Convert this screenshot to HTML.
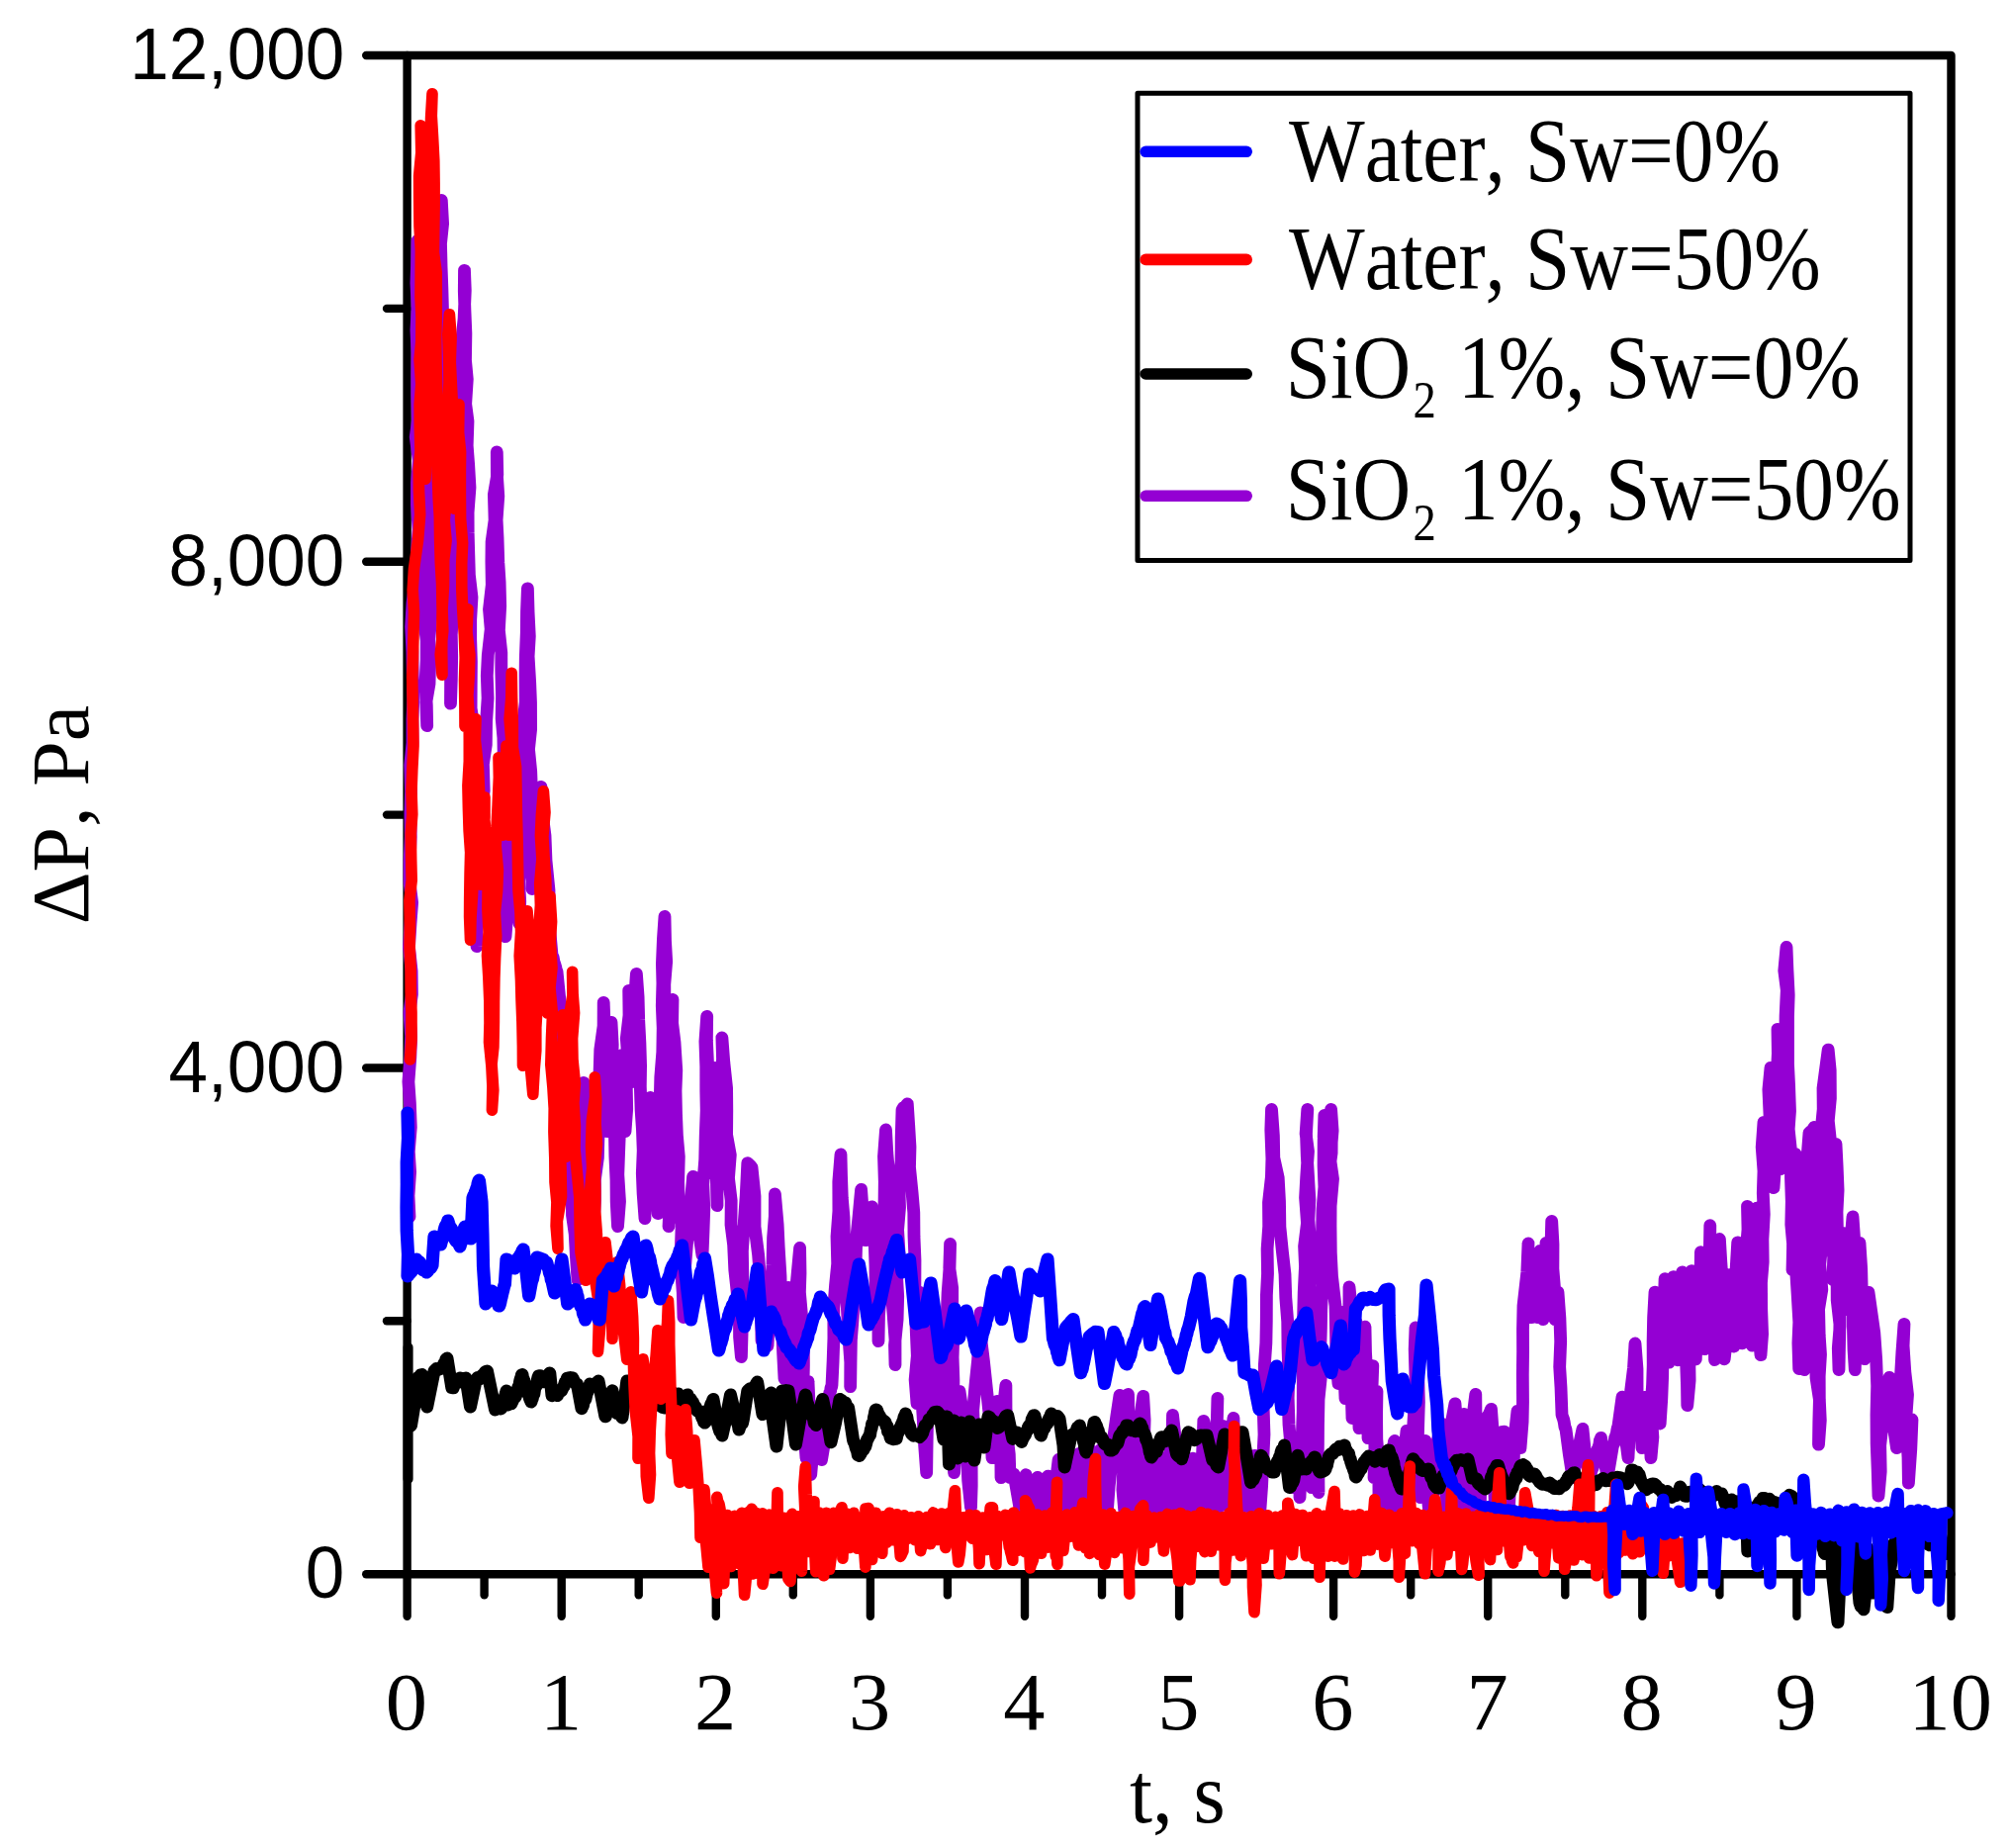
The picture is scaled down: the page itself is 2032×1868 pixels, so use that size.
<!DOCTYPE html>
<html lang="en"><head><meta charset="utf-8"><title>Pressure drop vs time</title>
<style>
html,body{margin:0;padding:0;background:#fff;}
svg{display:block;}
.ser{font-family:"Liberation Serif","Times New Roman",serif;fill:#000;font-kerning:none;}
.san{font-family:"Liberation Sans",Arial,sans-serif;fill:#000;font-kerning:none;}
</style></head><body>
<svg width="2032" height="1868" viewBox="0 0 2032 1868">
<rect x="0" y="0" width="2032" height="1868" fill="#fff"/>
<g stroke="#000" stroke-width="8.4" fill="none" stroke-linecap="round">
<rect x="411.6" y="56.0" width="1560.9" height="1535.2" stroke-linejoin="round"/>
<line x1="370.2" y1="1591.2" x2="411.6" y2="1591.2"/>
<line x1="370.2" y1="1079.5" x2="411.6" y2="1079.5"/>
<line x1="370.2" y1="567.7" x2="411.6" y2="567.7"/>
<line x1="370.2" y1="56.0" x2="411.6" y2="56.0"/>
<line x1="391" y1="1335.3" x2="411.6" y2="1335.3"/>
<line x1="391" y1="823.6" x2="411.6" y2="823.6"/>
<line x1="391" y1="311.9" x2="411.6" y2="311.9"/>
<line x1="411.6" y1="1591.2" x2="411.6" y2="1633.8"/>
<line x1="567.7" y1="1591.2" x2="567.7" y2="1633.8"/>
<line x1="723.8" y1="1591.2" x2="723.8" y2="1633.8"/>
<line x1="879.9" y1="1591.2" x2="879.9" y2="1633.8"/>
<line x1="1036.0" y1="1591.2" x2="1036.0" y2="1633.8"/>
<line x1="1192.1" y1="1591.2" x2="1192.1" y2="1633.8"/>
<line x1="1348.1" y1="1591.2" x2="1348.1" y2="1633.8"/>
<line x1="1504.2" y1="1591.2" x2="1504.2" y2="1633.8"/>
<line x1="1660.3" y1="1591.2" x2="1660.3" y2="1633.8"/>
<line x1="1816.4" y1="1591.2" x2="1816.4" y2="1633.8"/>
<line x1="1972.5" y1="1591.2" x2="1972.5" y2="1633.8"/>
<line x1="489.6" y1="1591.2" x2="489.6" y2="1612.4"/>
<line x1="645.7" y1="1591.2" x2="645.7" y2="1612.4"/>
<line x1="801.8" y1="1591.2" x2="801.8" y2="1612.4"/>
<line x1="957.9" y1="1591.2" x2="957.9" y2="1612.4"/>
<line x1="1114.0" y1="1591.2" x2="1114.0" y2="1612.4"/>
<line x1="1270.1" y1="1591.2" x2="1270.1" y2="1612.4"/>
<line x1="1426.2" y1="1591.2" x2="1426.2" y2="1612.4"/>
<line x1="1582.3" y1="1591.2" x2="1582.3" y2="1612.4"/>
<line x1="1738.4" y1="1591.2" x2="1738.4" y2="1612.4"/>
<line x1="1894.5" y1="1591.2" x2="1894.5" y2="1612.4"/>
</g>
<g id="curves">
<path d="M414 1230l-1-21.5 1.6-23.9-1.3-20.7 2-24.4-.9-24.2-1.5-21.9 1.9-24.4 .8-21.7-1.7-23.7 2.5-18.5-.3-23.4-2.6-24.3 1.5-23.9 1.6-21.1-2.5-20 0-21.9 1.1-24.9-.3-23.1 .6-22.5-.8-26.5 2.3-22.6 0-23.9 .8-19.6-.5-24.6-.4-23.9-1.3-25.3 1.4-23.6 3.4-29.3 1.3-25.7 1.4-19.8-1.7-25.3 .1-22 1.8-22.2-3.1-23.9 2.2-16.7-.7-25.1 0-22.4 .2-20.9-1-23.2 1.2-22.3-1.2-25.1 .6-17.9 .5-24.9 0 22.9 .3 19.3-.4 26.6 2.8 19.6 .1 24.1 1.1 24-1.1 22.5 2.2 19.9 .2 21.7-1.2 20.8 2.1 21.8-2.2 26.1 2.7 20.4 .7 19.7-1.5 23.7 1 21.6-.7 23.3 3.1 26.1 0 19.3-1.2 25.2 1.3 20.9 .4 20.9-.9-23.9 3.2-18.6 .7-23.3-.8-22.3 2-23.8-.4-22.3 1.3-23.7 .4-16.5-1.5-24.3 2.5-20.6 .5-25.7 0-17.9 2.2-27.1-2-22.4 .4-20 1-19.7 2.2-26.5 .3-21 .4-22.8-.4-22.3 1.3-19 1.1-26.1 1.2-17.2-.1-24.4 1.3 23.9-2.1 20.1 .6 24 .8 21.8 .6 22 .6 18.2 .6 23.7 2.1 22.1-.9 23.6 1.8 19.5-.7 24.5 .9 24.9-1 20.5 1.1 21.3-1.1 23.7 3.3 19.3-1.7 26-.3 16.6 .3 26.6 2.6 19.9 0 19.6 .5 24.6-.1 22.5 .8-23.7 .4-24-.4-21.8 1.3-21.5 2.6-22.9-.4-26 .5-21.5 1.5-20.2-1-25.9 2-21.7 2.1-22.6-.2-23.2 .9-22.5 .9-24.1-.8-21.6 1.2-24.9 2.2-20.9 1.2-28.8-.8-20.1-.2 20.9 .7 21.1 .9 21.6-.4 27.2 1.8 19.2-1.6 25 2.3 17.6-.8 24.6 1.5 19.8 1.3 22.4-1.9 25.2 .1 21 .6 21.6 .6 20.7 2.6 22.6-1.3 22.9 0 19.4 .7 22.6-.2 26.2-.1 21.2 3.3 21.4-2.6 20.8 .5 22.7 2.5 19.8-1.8 23.9 .7 20.6 1.5 25.6 .2 17.5 1.7 26.1-.4 17.4 .3 24.8-.1-23.3 2.1-23.8 1.7-19 1.4-22.5-2-24.5 1.1-20.8 3-23.6-.8-26.9 2.9-19.5 .3-23.5 1.5-23.5-.8-22.7 1-21 2.9-26.1-1.7-20.1 2.8-24.6-.4-23.5 .2-20.1 3-21.8-.7-26 3.4-20.1-.5-23 .1 23.4 1.4 21.3-1.7 24.1 .9 17.5 .8 25.2 1.3 20.2 .6 24.1-1.3 24.5 2.4 22.6 0 18.1 .7 26.4-.3 22.3 1.7 19.1 .4 25.6-.1 16.7-1 25.9 1.2 23.1 .5 18.7 1.3 24.5 .2 20.3 .8 24.4-1.2 21.9 1.6-20.6 1-24.3-1.8-21.8 1-21.2 2.7-23.1-1.5-24.1 1.7-18.7-.6-21.5 1.3-25.4 1.6-19.7 2.1 23.2 .7 23-1.7 21.4 1.8 25.4 1.9 23.7 .3 20.1 .1 23.8 1 22.3 .8 24.5 .7-22.8-1.1-20.4 2.4-22.8 1-23 1.4-24.7-1.4-24.8 1.4-19.2 .3-20.1-.6-27.2 2.2-19.1-.2-27.1 .2-18 1-24.7 .2-21.6 .9-23.4 .7 24.5 1.2 23.8-1.2 20.3 1.6 26.7 .8 19.8 .1 27.5-2.1 19.9 2.2 22.4 .9 24.1-.1 23.5-1.1 22.9 1.2 26.4 .4 22.1 1.3-24.7 2.7-26.1 2.3-28.6 2.7-24 .5 22.2 3.5 27.1 1 25.4 3 30 .3 34.8 2.7 30.2 .6 2.6 .6 .2 .7 4.2 .6 1.8 .6 1.7 .7 2.3 .6 3.5 .6 .7 3 30 1 40 1.1 22.8 2.4 20.3 .6 24.3 2.5 20.2 1.2 20.6 2.4 20.8 1.1 24.5 .2 22.8 2.7 19 1.2 22.4 1.6 24 1.6-23.2-.8-22.8-.2-22.3 1-19.6 2.8-24.6-1.6-20.2 .6-23 2.8-23.3-.2-20.4 2.3 24.3-.3 22.3 3.3 23.2 .4 26.9 3.7 23.8 .6 23.9 1.5-25.5-.1-20.7 3-22.3 .6-24.5 .1-17.4 1.9-24.4-.9-20.4 .7-22.3 3.3-24 .1-23.9 .9 24.1 .1 29 1.8 24.5 1.2 24-.2 28.8 .1-24.5 .9-17.9 2.2-25.9-.6-22.3 1.4-19.8 1.2 22.6-.6 22.5 2.7 23.3 .2 24.1 0 22.5 .4 20.8 1.1 23.6 .2 22.2 1.3 24.8 2-25.2-1.7-27.2 .7-19.7 1-26 .4-24.9 1.3-24.2 .8-26.2 1.1 25.1 .2 27.1 1.7 25.2 1.7-22.6-.5-25.9 1.9-20.6-1.8-24.8 2.7-23.7-.3-24.8 2.3 25.4-1.5 23.8 1.1 19.4 1.4 23.8 2.6-29.3-.7-24.6 .7-29.5 1.8-26 1.7 23.2 .6 23.5 1.2 23.1 .7 23-.3 20.9 .8 24.1 1.3 19.2 .8 21.7-.9 23 .8 20.2 1.9 25.5-.2-24.8 3.2-26.9 .7-24.1 .7-23.3 1-23.3 1.3 24.8 1.5 21.5 2.5 21.8 .3 27 2 22.3 1.6-20.2-1.3-25.3 .7-22.6 2.3-26.5-1.1-18.3 .6-25 2-25.2 .4-24.7-.9-22.2 .6-22.8-.5-19.6 1-24.5 1.6-23.5 .5 24.5 1.2 21-1.9 23.2 .1 23.4 .9 18.3 0 23.3 2.1 25.1 .2 21.7-1.3 19.9 .4 23.1 2.1 25.7-2.2 22.2 3 19.4-1.1 22.6 1-21.2-1.2-24 2.9-21.3 .2-27.8-.2-20.5 1-24.8-.7-23.3 1.2-19.3-2.1-25.4 1.9-21.8-.4 23.8 2.4 19.5 1.8 28.4-.8 20.6 .5 23.1 .9 22 1.9 21.4-.7 26.4 .6 18.8 3 23.5-.8 23.9 .3 23.2 1.6 21.5 .7 25.3 1.6-28.1 .1-24.5 2-24.6 2.3-24.5 3.6-40.7 3.4 25.7 2.3 28.9 3.7 24.8 1-24.3 .8-22.9-1-24.5 1.9-24.7 .5-23.5 1-26.4-.4-19.8 0-24.6-.9-25.2 1.8-25.5-.3 24.1 1 21.4-.1 20.9 2.5 25-.3 19.4-.6 27.8 1.1 19.8 .2-26.4 2.8-26.7 .7-23.9 1-29.4 1.3 21.7-.8 24.3 1.2 24.7-.9 23.4 .9 19.2 .6 26.1 0-25 .4-22.5 3.3-22.7-.5-24.7 .3-25.9 2-27.4-.6-21.6 1.9 24.8 2.8 26.3 .2 22.6-.2 24.5 3.7 20.3-1.8 23.6 2.7 22.4-.2 24.6 2.6 20.3 1.2 25.6 2 18.5 2.6 26.8 .2 22.4 1.8 20.1 .8-28.3-.1-22.5 .7-31-.4-25.4 1.6-24.5 2.2-31.3 1.6-33.1 1.4 1.3 1.4 1.4 1.4 1.7 3 29.1 0 30.9 3.6 28.2 2.4 31.8 .5 25.6 .5 29.4 1.5 .2 1.5 2 1.5 .7 1.5 2.6 1.6-29.4 2.4-31.1 1-21.5 .6-27.5 1.7-21.4 .1-22.7 2.7 30.6 1.1 23.3 1.8 29.2 .5 25.9 .9 23.6 1.3 29.2 1.3 25 2-21.5 1.2-22.9-.5-24 1.3-24-.8 23.8 2.8 18.9-.1 22.1 1.7 23 .6 25.1-.2 19.5 1.6-23-.8-18.9 2.5-26.8-1.1-18.7 2-25.3-.2-21 3.6-38.7 .4 25.9-.6 19 2.4 26.9 1.5 20.5 .1 26.1-.4 20.3 .5 22.9 .7 27.9 1.8 22.9-.5-25.5 3.2-27.9-.7-24 1.1 23.8 1.7 23.5-.8 25.9 .7 21.2 3-34.3 1.3-30.1 4.2 24.1 2.3 25.3 4.2-25.1 1.3-30.6 .5-2 .5-2.3 .5-2.5 .5-1.9 .5-2.2 .5-2.1 .5-.3 .5-4 .5-.4 .5-2.3 1.1-23.6 .8-23.8-.1-30 1.8-24 2.1-21.1-.7-27.5 1.9-25.7-.1-29.8 2.2-27.6 .5 21.3 .8 22.9 1.7 19.5 .5 22.8 2.2 24.7-.7 21.9 1.5 24.3 1.5 27.8 1.8 24.7-.1 24.9 .3-23.6 .4-23.6 1.9-24.5 .5-25.1 2.2-24.9 .8-28.7 2.2-21 2.6-28 1.8 25.8 2.6 25.6 6.4-33.8 2.7 32.9 .9 27.2 .2 26.4 2.7 25.8 .1 23.5 .5-26.6 2.4-27.7 .1-24.2 1-27.2 2-28.5 .3-27.2-.8-25.4 2-26.9 1.3 23.4 1.7 19.7-.5 24.5-.1 25.2 .4 18.6 .4 24.9 2.3 21.7 1.8 24.9 2.2 29 0 25.8-.5-19.8 2.6-26.2 .6-23.6-1.2-20.7 2.5-23.2-1.4-23 1.9-22.6-.5-20.6 2.1-27 .1-22.7 .8-28.3 1.3-2.3 1.3-.7 1.4-1.3 1.3-1.9 1.4 21.8 1.3 21.8-.5 20.5 2.6 25.8 1.7 19.9 .2 24.4 1 23.8-.1 26.4 .4 21.7 .9 22.4 1.1 26.3-2.2 23.9 1.9 24.2 2-19.6-1-26.8 2.2-22.3-2.3-22.7 2.1-21 .5 25.8-.7 22.7 2.7 24.8-1.1 26.9 1.6 23.5 1.6 30.5 2.1 28.2 .3-22.8 .4-23.6 1.3-26.2-.7-25.3-.1-27.8 2-20.2-.9-26.5 1.5 25.6-.1 24.3 .3 23.4-.6 19.9 1.9 24.2 1-22.4 .6-24.6 .2-25 1.2-25.4 1.7 25-1.7 24.6 .7 22.3 2.3 25.5-.2-24.2 1.1-26.1 2.1-27.1-.4 24 3 30.1 .4 23.3 3-33.7-.8-23.1 1.7-23.7-.5-27.4 .7-18.6 1.9-25.4 .6-24.5-.8 24.3 2.9 20.2 0 27 1.1 21.5-.7 21.8 .8 22.9-.1 25 1.6 24.1-2.5 19.5 1.7 25.1 1.3-28.1 3-28.3 1.1-26 5 33.7 2.4 27.6 1.3 29.1 2.8 27 .7-21.9-.1-25.2 2.5-27.4-.9-23.6 2.3-25.6 2.6-25.3 1.4-23.2 1-24.6 .7 26.5 2.7 22.1 2.6 24.5 2.8 26.8 2.3 21.5 .9 25.4 3.6-30.8 1.4-26.6 1.5 25.4 2.3 27.5 .2 24.5 1.7-21.5 .3-25.5 .4-23.9 2.5-22.5 .1 24.7 .8 24.5 2.5 20.5 .7 23.7 2-3 2-.7 5.9 33.9 6.2-33.2 6.2 37.8 5.5-35.2 5.7 30 4.9-31.2 5.1 33.3 2.6-24.6 3-25.4 1.4 28.7 3.6 22.9 2.7-28.1 3.5-27.3 1.8 25.4 3.1 26.9 1.7-25.2 3.2-29.4 1.1 28.9 3.8 30.5 3.4-31.8 2.7-31.6 2 28.7 3.1 28.8 1.7-30.3 4.4-27.9 2.9 32.1 3.3 28.8 1.7-23.5 2.7-23.8 1.4-21.7 3.5-24.9 3.2-21.3 1.3 23.4 1.1 25.2 1.4 23.9-.9 23 1.8 20.5 .6-24.2 .8-20.1 2.3-24.1-1.3-27.5 1.4-21.1 .4 24.5 2.8 19.7-.9 29 2.4 17.7 1.8 26.2 1.6-25.4 2.9-20.5 1.1-20.6 .2-27.3 2.9-21.3 1.4 23.9-.6 21.8 1.1 26.9 1.5 23.1-.9 20.8 4.4-28 1.3-23.5 1 26.8 4 22.8 1.9-26.1 3.6-26.4 2.5 28.2 2.8 22.5 1.3-25.6 .7-18.9 3.4-28 .4-21.3 2.6 22.6 .4 24.5 1.5 23 0 23.4 1-24.3 4-25 4 24.3 1.7 25.3 3.6-25.3 1.5-24.7 1.9 24.8 2.8 26.4 .7-22.2 3.9-21.8 1-24.7 .7-20.3 .6 23.5 1 19.6 2.5 23.7-.2 25.2 2.5-20.1 .9-27.3 2.2-21.3 4.1-25.4 .5-20.9-.6 24.4 .3 20.6 1.7 18-2 26.6 1.7 20.4 2.7-26.2-.1-30.9 1.4-24.9 2.4 25.3 1.6 27.1 2.8 30.4 1.1-22.9 .3-24.2 .4-23.8 2.4-19.9 .5 25.9 1.4 21.5 3 22.3 1.8 22.5 1.8-22.9 3.1-28.7 3.2 24.2 1.3 25.4 2.4-23.5 2.9-28.6 1.6 30.3 3.8 25.8 1.8-25.4 1.1-25.7 1.3-26.4-.8-25 1.4-23.6-.3-20.6 1.6-23.3 .4-22.2 .1-26.1 1.1-21.8-.4-25 1.6-23-.2-23.9 2.9-26.1 .5-18.3-1.1-28.8 .7-21 1.9 26.6 .4 22.5 4.4 20 1.3 24 .4 26.1 2.5 24.6 2.6 22.9 .8 23.7 1.9 24 .3 27 .9 27.3-.7 23 .8 27 3.1 34 .9 29.7 3.5-23.2 .5-24.2 2.9 31.1 .1 26.3 1-23.3 .3-22.2 1.2-21 .7-20.3 .1-26.4-.3-20.5 .1-27.5 .6-24.6 .5-21.1 1.3-26.8-.9-20.2 2.9-23.5-1.9-25.6 1.1-20.7 1.8-26.2-2.4-17.9 1.7-24.6-1.3 24.7 .8 22.8 1.2 20.1 1.4 23.7-1 20.1 1.5 21.2-1.3 26 .9 20.1 1.4 24.6-1.5 19.7-.5 25.6 0 18.7 .2 24.3 3.3 20.3-2.1 23.8 1.6 23.2-.4 23.5-.3-23.2 3.1-27.5-1.9-22.9 2.1-23.8 2.4 23-1.6 29.1 3 24.4 .2 25.9-1.1-23.2 .5-26.4 .1-18.3 .5-26.3 2.6-25.2-1-19.9 .8-27.2 .3-18.7 1.2-23.7-2.2-28.9 1.8-20.9 .5-27.5 1.9-22.8-.8-21.1 .1-25.2 .7-26.1-.7 21.7 2.2 22.2-1.3 24.4 .9 22.4 .2 21.5-.2 21.1 3.1 21.8-1.1 21.3 .2-19.9 2.2-23.8-1.9-27.2 1.7-22.5-1.4-20.3 3.3-24.5 .1-18.6-.6-25.6 1.5 21.6-2.4 29.3 2.8 19.4-2.4 27.4-.1 20.4 .3 27 1.2 23.6 3.5 30 .6 28.3 .3 26.5 2.1 23.9 2.3-24.9 .7-22.3 1-25.2-.2 31.7 2 26.7 1.2 29 1.9-25.4-1-22.5 2.3-21.5 .7-19.5 .1-23.9 2.1 20.2-1.4 25.8 .6 18.5 1.3 25.8-.3 19.7 .7 22.8-.2-24.9 3.3-24.7 1.4-24.3-.5-23.5 .7 28.5 2.1 27.3-.8 24.5 1 27.1-.4-24.4 2.9-26.8-.8-25.4 1.3-22.1 1.5-2 1.5-1.8 .5 25.4 1.2 22.1-.9 19.6 2.2 20.3 0 25.1 .9-22.1-1.1-25.5 2.2-21.1 1.4-1.3 1.4-3.1-.8 23.5 1 21.1 1.7 22.7 .3 25.1-1 20.7 1.2-31.5 .3-24 1.5-31.9-.4 24 .2 24.4 2 24.4 .1 18.8 .1 25.8 4-37.4 2.9 26.7 1.1 25.7 2.8-22.8-.7-23.3 1.9-22.6 .6-1.8 .5-1.5 .6-2.2 .6-1.2 .6-3 .5-2.9 .6-1.1 3.1 27.1-.2 24.3 3.1 26 3.1-28.7-.3-27.4 3.2-31.3 2.1 20.6 1.2 26.5 .7 20.3 1-21.8 .5-30.2 1.2-19.6 1.5-25 .8-24.2-.8-29 .8-21.9-.3 21.8 3.1 29.1 .6 24.3-.7 23.3-.6 22.1 1.9 23.9 1 27.2 1.9-28.6 3.1-28.8 .6 25.5 1.4 29.2 3 27.7 3.1-26.5 1.6-24.7 1.3-27.5 .6-1.2 .6-2.1 .6-2.9 .6-3.4 .6-1.7 .6-1.8 .6-1.9 .6-1.3 .6-2.3 .6-2.1 .6 22.9 2.7 29.8 1.1 19.7 .6 27 1.6-22.9 .5-25.6 2.1-25.7-.2-24.5 4-21.2 1.5 21 1.2 25.4-1.3 23.3 2.8 21.9-.2 23.3 .6-24.8 3.4-24.6-1-29 1.8-26 .7 25.2 1.5 28.2 .9 30.6 1.1 25.4 1.2-21.7-.2-29.5 .6-21.6 2.4-25.9 3.8-30.7 .2 24.2 1.9 30.5 1.2 25.7 1.4 23.3-.5 25.7 .4-23.1 1.2-28.8 1.7-20.7 1.7-26.1 .8-1.6 .8-2.6 .8-2.8 .8-1.8 .9-.7 .8-2.3 .8-1.8 .8-2.1 1.7 23.3 1.3 25-.2 19.5 .8 22.2 .9 24.4 0-20.9 1.8-26.3 .9-20.4 1.3-21.1 2.5-2.7 2.5-.1-.5 23.5 3.5 24.3 .3 19.2 .7 24.5 1.1-28.9-.6-27.1 1.5-26.4 3 32.4 .8-33.5 3.2-28.9 3 37.4 2.1-26.4 .4-20.3-.2-27.5 .3-23.4-.1-22.4 .5-23.7 3.8-33.9 1.2-29.2-.6 25.4 2.7 25.4 .9 24 .2-32.5 2.8-30.9 2.2 32.3 .8 31.1 .4-25.4 .1-17.2 2.5-24.8 .3 20.6 1 23.9 1.7 24.9 1.1-28.5 1-22.2 .9-26.7 1.1 23.7 .1 21.9 1.8 23.8 1.5-24.1 .9-23.5-.4-18.6 .7-25.2 1.3 23.5-.1 24.9 2.1 25.3 0 25.7 3-27.4 1.9 25.9 .8 23.8-1 25.6 1.3 21 1 27.4 .6 2 .5 1.3 .6 1.8 .6 2.8 .6 4.2 .5 1.3 .6 1.6 3.3 24.8 3.7 23.9 4.6-24.3 5.4-25.1 2.7 26.8 4.3 22.6 .5-1 .6-3 .5-1.6 .6-2.5 .5-.7 .6-1.7 .5-1.7 .6-4.4 .5 .5 .6-4 .5-2.2 .6-1 .5-1.3 .6-3.5 .5-.3 .6-1 .5-2.5 .6-1.7 .5-4 .6-1.4 .5-1.4 6.5 40.4 5-29.7 .5-2.7 .6-1.6 .5-.4 .5-1.6 .5-4.1 .6-1.1 .5-1.8 .5-.8 .5-3.6 .6-2.9 .5-.8 4.2-30.5 1.7 28.7 4.3 32.9 1.3-25.6 2.1-22.5-.7-20 2.8-22.9 1.5-24.7 2 25.7 .1 29.3 3.7 22.8 1.2 27.9 .7-25 3.3-26.6 3.9 32.3 1.1 29.3 1.9-21-2-28.8 1.7-24.4 .6-19.7-.1-23.9 .5-24 1.4-25.8-.5 19.9 .8 24.9 .8 22.8 2.1 23.4 .8 21.8 1.2 20.1 1.6-25.1 .9-23.1 .2-25.4-.5-23.8 1.9-24.9 .8-24 3 26.2 1.2 30.4 .1 27.8 .1-28.5 1.7-29.2 2.4-28.8 1.4 29.7 2.9 23.9 .2 30.6 2.4-19.6-1.2-27.4 2.1-22.5 1.3-19.4-.4 22.5 1.2 23 .8 22.9 2.2 18.9 1 27.6 .3 19.9 2.3-25.4-.3-21.1-.2-21.8-.4-21.7 .9-21.3 1.9-24.8-.2 23.1 2.5 18.8-.3 25.1 2.3 22.4 .9-29.1 .4-26.7 3.5-27.6 .3-24.9 1.8 22.2 1.3 28.4 1.2 22.2-.2 25.2 2.6-25.5-.1-22.6-.4-29.7 2.8-23.9 .4-23.4-.1 22.6 .6 21.4 .9 21.5 2.7 27.2 .6 20.3 0 23 2.3-24.2-.2-27.5 .4-23.3 1.9-19.9 .5-27.2 1.4 23.2 1.6 22.8 .9 24 1.4 28.6-.5 22.7 3.2-28.5 .5-28.8 1.1-27.8 2.4 24.3 .6 25.7 1.7 22.3 2.4-27.6-1.2-22 1.3-30 1.5-25.5 1.3 24.2 .9 25.4 1.1 28.7 1.3 23.7 1.7-20.5 1.4-27.1 .4-20.5 .4-24.4 1.8-22.6-.5-23.5 2.2 21.1-1 23.7 2 25.4-.4 22.8 1.3 23.3 .9 24.6 .7-22.4-.8-25.6 2.3-20.6 1-22.7 .2-22.1 .9-25.7 1.6 24.8 0 26.6-.2 21.6 1.4 26.1-.7 24.8 2.1 24.7 1.6-21.3-.9-24.6-.2-27.3 1.7-20.7-.3-23.1 1.4-25.4-1-21 .7-22.5-1.8-24.2 1.8-25.3 .5 28.6 3.5 30.8 .1-21.1 2.3-24.3-.4-22.2-1.1-24.7 2.1-22.1 .4 21.6 .2 25.6 0 23.8 1.4 27.1 1 23.3 1.7-24 .4-20.6-1.7-25.9 3.1-23.3-.2-20.3 1.1-21.7-.4-24.6 1.5 21.4 .2 28.1 .3 23.9-1.3 20.7 3.3 22.5-1 24.8 .1-23.7 .7-21.6 1-23.5 .6-18.4 .1-26.5 2.4-19.7 .2-21.2 1.2-26.1-2.5-19.8 2.2-23.9 .9 22.6 1.3 25.8-.7 22.2 0 20.8 0 26.5 1.1 22.1 .9 25.8-1.3 18.3 2.5 24-.2 25.1 .8 24.1-.5 23.1 2.2 24.7-1 21.3 .5-22.1 0-22.3-.3-25.6 3.1-21.4-.3-26 .5 24.2 .7 25.7-.4 23.4 .1 20.8-.2 24.7 1.5 23.9 1.6 27.5-.9 21.1 .8 26.1 .5-20.7 2.1-24-.7-22 1.2-25.9 2-20.9-.5-23.9-1.3 20.5 1.4 27.3 .1 21.6-.9 23.5 1 21.6 .4 23.9-.4-23.4 2.5-24.3-.3-23.9 .9-23.1-1.8-22.4 2.1-29.4 1.2-19.7-.6-25-.6-23.1 2-25.4 1.7-1.3 1.6-1.4 1.7-2.8 .2 25.5 .2 17.4-.8 24.8 .8 22.3-.1 25.5 2.9 24.5-1.4 20.4 .9 23.5 .9 21.9-1.9 22.2 .3 25.1 3.4 22.2-.6 22.9-.3 22.5 1.8-24.5-1-21.5-.1-23.2 1.3-21.9-1.3-19.3-.6-26.6 3.2-19.6-2-25.7 1.8-18.3 1.3-21.9-.5-27.6 .4-20.4-.5-25-1.4-19.6 2.3-24-.2-21.1 5.2-38.9 2 20.7 .2 28.4-2.1 22.7 2.2 20.8-.1 24 2 24.5-.9 21.5-.5 23.8 2.7 23.7-.7 22.5 .8-23.2 1.8-20.5-1-24 1.4-25.4-.1-22.7 .1-21.6 1.1 21.7 1 25.1-1.1 22.1 .5 21.1-1.5 23.9 1.1 23 .1 21.2 2.7 23.9-.4 21.4-.5 25-.7-21.9 1.8-22.4-.6-24.9 2.5-24.7 1-23.3 0-21.2 .4 23.7 1.5 27.3 3.1 26.4 2.2-25.4-.4-22.4 1.1-20.3 2.1-25.6 1.4 19.8-.2 26.8-1.8 19.1 .4 21.6 .6 22.9 .6 23.8 1.3 20.7 .6-28.2 1.5-23.4 1.5-24-.6-27.8 1.7-25 1.7 26.3 .5 21.3 .3 22.4 .9 23.9 1.6 23.5 .6-23.5 .6-23.9 2.8-20 5.8 41.1 1.9 26.6 1 26.9-.7 29.1 .2 29.8 1 26.1 .8 26.3 2.2-24.7-.5-26.4 2.3-21.1 .5-.9 .5-2.9 .6-1.4 .5-1.4 .5-3.4 4.4-37.7 3.2 24.4 .8 23.3 3.5 23.7 .5-31.4 3-32.3 1.9-33.2 2.1-28.5-.9 22.1 1.7 26.1 2.7 23.3-1.6 22.6 .9 20 1.2 21.1 .4 25.7 2.4-34.7 1.2-29.5" fill="none" stroke="#9400d3" stroke-width="12.8" stroke-linejoin="round" stroke-linecap="round"/>
<path d="M412.6 1362V1495" fill="none" stroke="#000" stroke-width="10" stroke-linecap="round"/>
<path d="M415.5 1441l4.1-24.7 1.4-20.3 1.4-3.5 1.5 2.3 1.5-4.9 1.4-.3 4.9 32.4 7.3-36 2.2-2.4 2.1 .7 2.2-.9 2.2-2.2 1.1-2.7 1 .2 1.1-4.7 1.1-1 4.8 29.6 1.4 .2 1.3-4.1 1.4-.5 1.4-.3 1.3-2.6 1.4-2.3 2 1.7 2-.9 2-.8 4.5 29 5.5-26 1.9-3.6 1.9 1.6 2-3.3 1.9-1.2 1.9-2.7 1.9-.8 8.1 39 2.9-1.7 2.8 .7 .6-.6 .7-3.1 .6-.5 .6-2.7 .7-1.2 .6-3.6 .6-1.5 .7-2.3 .6-2.5 1.6 14 1.6-2.4 1.6 1.3 1.6-3.3 1-2.7 .9-.1 1-1.2 .9-3.2 1-2.5 .6-3.5 .6 .7 .6-2.7 .6-3.9 .6-2.6 .6-.1 .6-4 .6-.2 .6 3.7 .5 .2 .6 2 .5 1.5 .6 3 .6 3 .5-.5 .6 2.7 .7 1.5 .8 2.8 .8 .8 .7 3.2 .7 1.7 .8 1.8 .6-2.3 .6-1 .5-2.6 .6-3.7 .6 1.6 .6-4.6 .5-1.7 .6-2.1 .6 .1 .6-1.9 .5-3.8 .6-2.4 .6-1.6 1.4-.2 1.4 4.6 1.4-1.4 1.4 2.7 1.2-1.6 1.1-2.5 1.1-1.8 1.2-1.6 1.1-1.2 2.2 22.7 2.8-1.3 2.7 1.2 1.4-3.8 1.3 0 1.4-1 1.4-3.1 1.1-1.4 1.1-3.7 1.1 .1 1.1-4.6 1.1-.1 2.2-.4 2.3 .4 1.4 3.3 1.5 2.4 1.5 .3 4.6 24.7 .6-2.1 .7-.3 .6-3.3 .7-1.8 .6-1.7 .7-.2 .6-2.9 .7-3 .6-.9 .7-2.2 .6-3.1 .7-.2 .6-3 2.1 1.4 2.2-1.1 2.2-1.2 2.1-2.1 6.9 35.8 .5-.2 .6-5.7 .5-.1 .6-1.5 .5-3.1 .6-2.7 .5 .1 .6-3.1 .5-2.6 .6-2.9 .5 1.7 .6-4.5 .5-1.4 5 22.7 1.7 0 1.6 1.9 1.7 2.6 4.8-37 2.1 .4 2 3.7 2.1-.1 1 .9 1 2.5 1 1.5 1 3.6 1 2.3 1.7 .2 1.6 2 1.7 2 1.7-.5 1.6-.6 1.7-3.1 1.7-.6 1.6-5.1 1.7-.1 .8 1.4 .8 3.8 .8-1.4 .9 2.6 .8 3.1 .8 1.4 .8 2.4 1.9 2.6 1.9 1.4 1.9 .7 .9-2 1-2.7 .9-1.9 1-1.8 .9-2.6 1 .5 .9-2.5 2.6-1.7 2.5 2.6 2.6-1.9 3.3 24 .5-1.5 .6-4.5 .5-.3 .6-1.6 .5-4.4 .6-.3 .5-3.9 .6 .8 .5-5.1 .6 .4 .5-2.6 1.1 3.8 1.1 1.3 1.2-.7 1.1 3.1 1.1 .2 1.1 3.3 1.4 .9 1.3 3.6 1.4 1.3 1.3 .2 .9-.1 .9 3.3 .9 2.9 .9-.1 .9 4.4 .9 .6 .7-.4 .7-3.3 .7-2.7 .7 0 .7-3.3 .8-1.9 .7-3.3 .7-1.6 .7-2.4 .7 .7 .7-3.3 .7-2 4.5 24.7 .7 2.7 .8 2.5 .8 2.6 .7-1.2 .7 2.8 .8 2.4 4.2-18.4 4.3-22.6 4.3 18.4 .5 3.6 .5 1.6 .5 .6 .6 3.1 .5 .3 .5 1.9 .6 1.6 .5 3.9 .9-2.6 .9-2.6 .8-1 .9-.2 .9-4 4.4-28.6 2.4-2.2 2.5 .5 1.2-1.6 1.3-.6 1.2-2.9 1.2-2.2 5.4 32.6 1.1-2.1 1-1.3 1.1-5.2 1.1-.4 .7-.3 .7-3.1 .8-1.7 .7-2 .7-5 .7-.5 1.4 25.1 4 28.9 2.8-25.4 2.7-30.6 2.2 1.6 2.1-2 2.2 .4 4.1 28.4 3.4 25.6 4.9-28.4 4.9-21.6 .6 1.5 .6 4.6 .6 2 .6 1.3 .6 2.8 .6 1.7 .6 1.6 .6 .8 .5 2.8 .9 1 .9 1.8 .9 1.1 .9 5.4 .9-.6 .9 2.7 .5-3.9 .5-.8 .5-2.9 .5-.6 .5-2.5 .5-2.6 .6-.8 .5-2.2 .5-2.3 .5-.1 .5-4.1 .5-1 .5-2.2 5.3 24.4 3.1 18.9 4.5-19.2 4.5-24.1 2.1 1.3 2.2 2.4 1.4-.2 1.5 5.2 1.4-.2 4.9 32.4 .6 2 .6 .8 .6 1.5 .6 2.4 .6 2.2 .6 1.2 .6 1.6 .6 3.7 1.5 .6 1.4-2.2 1.5-4.2 1.4 .1 .9-2.1 .8-.7 .9-3.2 .8-3.8 .8-.9 .9-1.9 .8-1.5 .5-.3 .5-3.4 .5-2.5 .6-1.3 .5-4.3 .5 .5 .5-1.5 .5-2.5 .5-3.3 .6-2.3 .5-3.1 .5-1.7 .5-.3 .9 .5 1 3 .9 3.2 .9-.4 1 3 2.3 1.5 2.3 1.7 .6 2.5 .7 2 .7-.4 .6 5.6 .6 .6 .7 .9 .7 1.8 .6 3 2.6 1.2 2.6-.3 .8-.2 .9-4.3 .8-1.7 .9-1.3 .8-3.5 .9-.7 .7-2.3 .7 .1 .7-3.4 .7-.9 .8-4.2 .7 .4 .7-3.4 .6 3.1 .6-.2 .6 3.3 .6 2.6 .6 1.6 .6 2.1 .6 .6 .6 3.3 .6 1.2 .6 2.6 1.9 1.8 2-1.1 2 1.1 2.2 1.5 2.2-2.3 .9-1.7 .9-3.4 .8-1.3 .9-3.2 .9-.5 1.5-.7 1.4-4.4 1.5 .2 1.1-1.5 1.1-3.2 1.1 0 1.1-3.1 2.5-.2 2.5 2.8 4 25 3-23 1.8 25.3 .7 22.7 1.4-24.2 3.1-19.8 4 38 3.3-36 4.7 34 4-35 4.9 39 5.1-36 5 23 4-31 1.5 .8 1.5 2.5 1.5 .7 1.3 .9 1.2 .8 1.3 3.5 1.3 2.1 1.2-.5 1.3-4.3 1.3 1.4 1.2-3.4 1.7-1.9 1.7-3.3 1.7-.6 5.1 23.7 1.5-3.8 1.5-1.1 1.5-1.6 .9 1.8 .9 .7 .9 1.5 .9 3.6 .9 1.9 .9-3 .9-1.1 .9-1.9 .9-1 .9-2.7 1.1-1.5 1-3.2 1.1-2 1-.5 .9-.5 .8-5.2 .9-1.7 .9-2.2 .8-.2 .7 3.3 .6 .9 .7 3.6 .7 .8 .7 .9 .6 2.4 .7 3.2 .7 .1 .6 4.3 .7 .8 .8-2.3 .9-3.3 .8-.7 .9-1 .9-3.5 .8-.5 1-.5 1-2.1 1.1-3.8 1-.5 1-3.8 2.1 2 2 .7 2.1-.3 2.1 2.6 4 27 1.2 22 6.8-32 2.1-1.6 2.1-1.1 1-2.3 1.1-3.1 1.1 .4 1-2.3 .5 3.5 .5 .2 .6 1.7 .5 3.4 .5 2.8 .5-.5 .6 2.6 .5 3.5 .5-.3 .5 5.1 .6 .1 .5 4.2 .5 .7 .5-2.3 .6-3.3 .5-2.7 .5-1.7 .6-1.5 .5-.1 .5-2 .6-3.3 .6-1.4 .6-3.2 .6-.6 .6-1.6 .6-3.4 .6-3.1 .6-.3 .7 1.9 .7 1 .7 1.8 .7 2.8 .7 .8 .7 3.7 1.4 3.7 1.4-.3 1.5 3 1.4 3.2 1.4 1 1.4 .7 1.4-.2 1.4 5.3 1.4 .1 1.7-.8 1.7-3.2 1.7-2.1 1-.5 1-3.7 1-3.9 1-1.6 1-.7 1.3-2.9 1.3 .1 1.2-2.3 1.3-3.4 1.5 0 1.5 2.4 1.5 2.1 2.2-.9 2.3 2.2 1.1-3 1.1-1.5 1.2-1.7 1.1-1.6 .8 .5 .9 3.9 .8 .2 .8 4.5 .9 .3 .8 1.6 .9 2.2 .5 3.2 .6 .3 .6 1.8 .6 1.5 .6 2.8 .6 1.8 .5 4.1 .6 .6 .6 3.4 .6 1.3 1.7-2.8 1.7-2.8 1.8-.2 .7-2.9 .7-1.7 .8 0 .7-4.9 .7-2 .8-2.3 .7-.7 1.7 .2 1.7 3.9 1.7-.7 1-.3 1-4.8 1.1-2.7 1-.3 1-2 5 23.7 1.7 2 1.7-.2 1.7 3.2 .5-2.4 .5-.7 .6-5.1 .5 .8 .5-2.2 .5-1.7 .6-3.3 .5-2.2 .5-1.8 .5-3.6 .6-.6 .5-3.2 .5-1 1.2 .9 1.3 .5 1.2 2.1 1.3 1.1 1.2 3.4 2.1-1.4 2-2.8 2.1-.5 2.1 .2 2-.2 2.1 0 5.8 24.8 1.4 .8 1.5 1.3 1.4 3.7 1.5 1.4 6.4-33 2.2 2.6 2.3 1.3 2.3 1.9 2.2 .4 2.2-1 2.3-1.1 1.5-1.8 1.5-4.4 1.5-.2 4.3 24.4 4.3 26.3 1.3-2.8 1.2 0 1.3-3.7 1.3-1.5 .5-3.7 .6-.9 .5-.4 .6-5.1 .6-2.1 .5-.5 .6-.7 .5-4 .6-1.7 .9 .9 .9 4.1 .9-.8 .9 2.8 .9 2.7 1.5 1.9 1.5 2.4 1.5 .1 2.3 2.7 2.2-.1 .7-2.8 .8-2.3 .7-1.7 .7-3.1 .7-1.5 .8-.1 .7-3.2 .9-.1 .8-4.9 .9-2.8 .8 .6 .9-1.2 .8-3.9 5.1 42.5 1.1-.7 1-3.3 1.1-.6 1.1-2.8 4.2-24.8 .6 3 .6 1.9 .6 .9 .6 4 .6 1.1 .6-.3 .6 3 2.1-.3 2.1 .3 1.2-3.3 1.2-.6 1.2 .1 1.2-3.1 1.2-1.5 1.2-.7 1.2-2.8 .7 .2 .8 3 .7 2.4 .8 1.9 .7 2.6 .8 2.9 .7 1.3 .8 .7 2.3-.7 2.3-1.1 .7-1.4 .6-2.7 .7-.4 .6-3.6 .7-2.2 .6-2.9 .7-1.7 1.7-1.8 1.7-.2 1.7-2.5 1.7-2 1.7 .6 1.7-3.1 2.6 .3 2.5-1.6 .8 3.8 .9 1 .8 1.5 .8 1.2 .9 .6 .8 4.6 .9 1.4 .6 3 .7 1.9 .6 2.1 .7-.9 .6 4.6 .6 .3 .7 2.5 .6 3.9 .7 .5 1.3-2.5 1.3-1.8 1.3-3.7 1.3-.3 1-3.3 1-1.9 1-2 1.1-.7 1-2.1 2.2-2.5 2.2 1 2.2 .3 2.2 3.7 1.5-3.9 1.4 .4 1.5-3.1 1.5 4.1 1.4 1.3 1.5 1.2 .9-2.2 .9-3.8 .8 .4 .9-4.8 .9-.8 .9 .2 .9 3.5 .9 3.3 .9-.4 .9 2.7 .5 3.4 .5-.2 .5 4.6 .5 1 .5 2.5 .5 2.5 .5 1.3 .5-.5 .5 3.2 .7 2 .8 2.1 .7 2.7 .8 0 .7 3.4 .8 1.7 1.5-2.7 1.5-2.3 1.4-.7 1.5-1.7 .5-.9 .6-3 .5-2.9 .5-2.6 .6-1.6 .5-1.9 .6-2.6 .5-1.9 .5-2.4 .6-1.8 .5-1.3 1.7 2.7 1.7 1.8 1.7 1.5 1.7 2.4 1.7 3.1 1.7 .3 2.5-.1 2.6-1.4 .7 .4 .8 2.9 .7 2.4 .8 2.8 .7 1 .8 .1 .7 3.4 .8 2.6 .7 1.2 2.1 2.3 2.1 0 .7-2.3 .7-3 .7-2.8 .7-.2 .7-1.1 .7-3.1 2.5-1.3 2.6 1.9 1-2 1-1.7 1.1-2.2 1-3.4 1-1 1.7-3.5 1.7-2.1 1.7 .1 2.6-.8 2.5 .8 2.3 .9 2.3-2.3 4.5 19.2 2.2 .1 2.2 .7 1.4 4 1.4 1.5 1.5 .8 2.1 2.2 2.1 1.5 1.5-1.9 1.4-1.2 1.5-1.9 .6-.6 .7-4 .6-2.6 .6 1 .6-3 .7-2.9 .6-1.5 1.5-2 1.4-2.8 1.5 0 .7 2.3 .7 3 .6 .9 .7 2.9 .7 2.2 .7 .5 .7 3.3 .6 1.5 1 3.8 .9 .9 .9-.2 .9 3.8 .9 1.9 .9 1.3 .8-.8 .9-2.3 .8-1.1 .9-1.7 .9-5 .8-.8 .9-1.9 .8-3.9 .9 1.7 .8-5.6 .9-.8 .8-1.3 .9-2.8 .8-1.8 2.3-1 2.4 1.6 .9 2 .9 .9 1 3.1 .9 2.9 .9 1.1 2.4-1.9 2.3-.3 1.3 1.8 1.2 2.7 1.3 1.6 1.3 1.9 2.5 2.2 2.5-.2 2.6 1.1 2.5-2.1 1.6 3.7 1.6-1.4 1.6 3.2 2.5 .1 2.4 .1 2.4-3.1 2.5-.2 .9-1 1-3 1 0 .9-3.3 1-1.7 2.4-.5 2.4-2.9 1.1-.2 1.2 3.9 1.2 .9 1.2 1.9 2.4 2.4 2.3-.2 1.6-3.2 1.6-1.6 1.6 .1 1.3 2.9 1.3 .7 1.3 2.5 1.3 2.4 1.8-1.8 1.7 .8 1.8-3.4 2.6-.7 2.6-1.8 2.4 2.2 2.4-.4 2.4 .2 2.4-2.5 2.5 1 2.4-1.8 2.4 .4 2.4 .9 1.7 .8 1.7 2.6 1.7 1.6 .7-.4 .8-2 .7-3.5 .7-.3 .7-2.5 .8-4.8 .7-.2 2.6 1.6 2.5 .5 .9 3.2 .8-1 .9 3.4 .9 3.1 .8 1.5 1.1 1.9 1.1 2 1.1 .2 1.1 3.5 1.4-2.5 1.5 .8 1.4-3.1 2.2-1 2.1 .2 1.5 1.4 1.4 2.1 1.5 1.2 1.4 .7 1.5 2.1 1.4 2 2.2-1.1 2.1-1.1 1.5 3.4 1.4 1.8 1.4 .6 2.2-2.2 2.2 .5 1.1-2.1 1-1.2 1.1-1.6 1.1-3.7 1 1.9 .9 2.2 1 1.9 1 1.8 .9 1.2 1.7 .3 1.6-.9 1.6-3.2 2.4 1.7 2.5-2.3 2.4-2.6 2.4 .4 2.2 2.3 2.1 .6 2.2 .3 2.2 1.2 2.2 .6 2.2 2.4 1.4-3.3 1.5 1.5 1.4-3.4 2.5 2.8 2.6-.4 .8 2 .9 1.8 .8 .7 .8 4.8 .9 1.2 .8 .9 1.7-3.2 1.7-.1 1.7-2.1 2.5 2.9 2.5-1.1 .8 1.1 .7 2.6 .7 2 .7 2.2 .7 1.1 .7 4.1 .8 1.6 1.6-2.8 1.7-.1 1.7-2.6 1.1 41 2.2-43 2.4-.7 2.4-.5 1.7-.4 1.6-2.2 1.6-2.8 1.7 .1 1.7-4.1 1.6 0 2.5 1.7 2.6-.8 2.5 2.7 2.5 .4 1.4 .6 1.5 .3 1.4 3.4 2.2-.1 2.2 3.1 .7-.9 .7-1.3 .8-5.6 .7-1.3 .7-1.3 .7-1.6 2.2-2.4 2.2 1 2.1 2.4 2.2 1.3 1.2 3.2 1.2 1.8 1.2-.9 1.1 3.1 1.2 3.3 1.2 1.2 1.2-.8 1.2 3.1 .7 3.4 .7 2.3 .7 1.8 .8 1.5 .7 2.3 .7 .9 .7 1.8 2.5-1.5 2.5 2.5 .8 2.5 .9 1.2 .8 .4 .8 1.8 .9 4.8 .8 .3 .7 3.7 .7-1.4 .7 2 .8 4.8 .7 .4 .7 4.4 .7 .6 5-30.5 1.9 26.2 .7 25.4 2.5 22.8 2.9 25.4 1.3-27.7 .6-25.8 2.1-26.3 8 40 1.7-27.1 4.3-22.9 .2 25.5 1.9 24.1 1.9 20.4 1.3 3.9 1.4-.7 1.3 3.6 3.1-28 .9-33.8 1.8 22.4 2.2 22.6 1.2-1.3 1.2-2.7 1.2-2.9 1.2-.2 1.2-2.9 5-40 1.6 31.6 3.2 33 2.2-33.4 5-31.2 1.7-.1 1.6-3.9 1.7 .1 1.7-3.3 1.6-1.2 1.7-1.6 2.5-.3 2.5 1.2 2.5-3 2.5 1 1.7 .2 1.6 2.7 1.7 3.2 2.8 1.4 2.7-1 1.4 2.7 1.3 1.7 1.4 1.2 1.4 .8 1.1 0 1.1-5 1.2-.2 1.1-2.8 1.1-2.4 1.2-.2 1.1-4.2 1.1-2 4.2 17 1 3 1.1 2.4 1.1 2.8 1 .3" fill="none" stroke="#000000" stroke-width="13.0" stroke-linejoin="round" stroke-linecap="round"/>
<path d="M414.5 1071l1.5-19.9 0-27.8-.8-20.5-.1-24.4-1-20.6 .3-22.6-.5-24.8 2.3-20.5-.5-20.7-.4-26.7 1.5-19.4-.8-23.1 .8-21.8 1.2-24-.4-22.5-.4-20.7-.5-26 .7-18.7 .6-24.1 .5-24.1-1.3-21.7 1.3-21.4 4.1-29.3 2.1-25.7-1.2-24.4-.2-20.9 1.7-18.8-.7-24.7-.1-22.4 1.6-20.5-1.7-24.7 1.7-18.4 .2-24.8-1-20.4 .2-22.2 .2-24.6-1.4-24.6-.3-28.1-.1-22.4 2.2-23.8-.6-27.6 1.3 25-.6 22.6 1 18.5 1 22.6-2.2 20.5 1.2 23.1 1.8 26.9-2 17.2 1.3 22.8 .3 26.2-.6 20 2.4 22.5-1.5 25 1.8 22.4-.1 19.4-.3 22.9 1-20.9 .3-26.5-.7-21.9 1.9-22-.3-21.3-1-24.1 1.1-23.4 2.1-24.8 .8-23.9-.9-20.1-.6-22.8 1.1-23.6 1.3-25.6-.7-18.2-.4-22.5 .6-24 1.4-24-.7 22.3 1.2 20.4 1.3 25 .3 22.9 0 22.6-.4 24.8-.3 22.5 2.8 20.3 .1 23.6-.1 20.3-.5 23 .3 26.3 .5 19.1 .6 25.2 .6 21-.3 21-.2 22.2 1 26.4 1.1 18.2 .3 22.6 .7 24.6 1.3 21.5 .4 22.5 .8 24.9-2.6 23.6 1.8 20.8-.3-23.6 .1-20 .3-23.3 1.4-23.2 .2-26.4 2.4-19.3-1.9-20.9 2.8-27.5-2.4-20.2 .9-22.1 1.5-22.9 .8-22.4 1.2-23.8-.2-24.5-1-24.2 1.6-20.3 1.7 22.8-.8 25.3 1.2 25.8 1.3 24-1 25.9 1.8 26.2-.8 24.3 1.2 22.3 2.8-23.5-1.5-30 3.3-23.7 .4-28.4-1 22.6 2.6 25.5-.2 19.9 0 22.4 .2 25.4 2 24.3-.9 21.2 .1 25.8 .9 20.3 1.6 25.6 .9 23-.7 22.7 .4 26.2 .1 20.7 2.1-22.8-1.1-27.3 1.9-21.7-.9-25.7 1-21.1-1.3 21.6 3.2 24.5-.7 21.8-1.3 19.3 1.3 21.7 .1 25 0 20-1.4 24.4 .5 23.3 .7 22.2 1.5 22.2-.5 19.9-.4 27-.1 18.1 .9 23.6 .5-22.1 1.5-23.8 1.1-24 0-19.1 .9-24.9-.1-17.6 .5-27.3 1.3-17.3-2-23.2 1.8-24.3-.6 21.4 3 27.8 1.2 23.4-.7 21.8 .9 28.3 1 23.2 .2 21.7 0-20.7 2.7-26.2 1.3-21.5 0-20.2-.4 20 2 23.1 1.5 21.7 0 27.2-.2 21.5 1.2 23-1.6 23.6 1.3 21.3 1 24.6 .2 22.3-.5 19.4 2.4 24.3 1 20.2-.5 24.4 1.4-20.5-1.7-26.2 1.8-17.3 .5-25.6 .1-20 .4-23.9 .7-19.9 1.1-22.9-1.3-23.7 2.2-21.6 .8-21.1-2.2-24.7 1.1-24.1 .9-17.6 1.2-27.6-.4-19.9 .5 25.4 3.4 26.8 .1 26.4-.1-22.3 1.3-25.8 2.1-16.9 .7-25.6 1.5 24.1-1.4 21.6 2.2 23.8 .2 21.1 .2-26.1 1.9-22.2-.2-22.2 .5-24.2-1.8-22.9 1.7-21.3 .4-25.2 .4 25.4 .7 24.8 .1 25.3 3.2 19.3 .5 29 .3 20.4 .8 28.4 .4 25.6 .4 21.6 2 22.8 .6 19.1-1.4 24.3 1.3 24.5 .5 19.3 .9 23.2 .5 24.3 .1 19.8 .3-20.9 1.3-24.4-.2-23.9-.4-21.3 1.6-23.9 1.2-20.7 .7-21.5 2.1 24.9-.1 23.6-.5 18.8 1.8 23.9 1.9 24.3 .4 22.2-1.8 25.5 2 22.4 1.4-25 1.6-19.3 0-23.6 1.8-28.5 0-20 .8-26.1 .2-22.1 1.8-26.8-.7-22 2.2-24.7-1.5-23.6 1-21.7 2-23.2 1.6 21.6-2.1 24.3 1.2 21.9 1.7 21.8 .4 23.4 .8 23.3 .6 22.4-1.6 21 2 24.1-.5 20.8 1.2-21.7 .8-25.5-.1-26.7 0-19.6 .6-25.1 1.6 26-1.3 20.1 1.7 26.5-2 20.2 2.5 27.1-1 23.4-.7 27.3 2.1 22.9 1.3 21.3-.3 23.9 .9 25.9 .2 24.7 1.9 20.1-.8 24.1 1.9 23.1-.6-28 4.1-24.7-.5-29.6-.7-20.1 .4-25.5 1.6-21.8-1.1-23.3 .2-21.4 2.6-22.9-1-19.3 .6 22.2 1.1 22.7-.6 28.3-.6 22 1.4 24.4 1.1 24 1.2-25.9 1.6-22.3 .5-24.2-1.3-23 .8-23.1 1-24.3 3.1-20.7-.3-23.6 .5 22.2 1.5 19.5-2 25.9 .4 21.2 2.4 24.3-1.5 19.5 1.5 23.3-.4 23.2 2 20.7 2.8 28.3 .4 29.7 .8 26 5 28.3 2.1-20.9-.1-27.3 2-18.3 .8-26 1.9-21-1.1-21.8 .8-26.2 3.2-23.9-.3-20.2 1.4 22.5-.6 24.9 1.3 20.3-2.3 24.9 .7 22.6-.1 21.1 1.7 22.9-.7 25.2-.3 25.6 2.9 18.5-.1 24-.7 25.1 2.2-24.8 1.6-16.8-.1-26.8 1.8-17.9 2-24.3 2.6 22.3 2.2 27.9 1.9 25.8 .3 21.6 .6-24.5 1.2-29.1 3.2-24 2.6 23 1.4 25.4 3.2 28.1 2.6 22.1 1.6-22.5 1.8-25.1 .6-21 1.8 25.2 .8 21.7-.1 21.3 .7 26.1 1.2 25.6 2.9 26.3-.1 22.4 .7-23.6 2.9-23.9 .7-29 .7-24.1 2.2 20.5-.1 26.1 2 24.4-1.2 20.7 .4 27 2.5 21.9 1.7-23.6-.9-21.8 .7-23 1.4-24.1 1.3-21.8 3.1-29.2 1.9-26.1 .5 23.6 2.9 20.7-.4 25.3 1.3-26.3 1.9-23.6 3.4-26.7 .9-23 1.2 21.7 0 22.5 .6 20.1 .6 23.5 1 23.2-.7 24.4 .8 19.2 5-43.6 0 21.3 .8 28.2 2.2 23.1 .7-23.1 2-27.2 3.3-23.3 1.7 22 .8 30.7 1.5 21.9 5-43.6 2.2 24 2.1 25.7 1.2 23.3 .5 25.6 1.6-23.1 2.4-25.5 2.2 27.4-.7 24.5 2.5 26.7 1.4-30.9 2.6-27.7 .3 29.7 1.6 25.8 2.6 29.1-1.5-23 2.1-28 1.1-18.8-1.4-27.2 .5 2.8 .6 2.2 .5 1.7 .5 0 .6 2.8 .5 2.7 .4 22.2 2.5 28.5 .8 24.5 .7-21.6 .8-25.8 2-21.8 .7 24.4 3.1 27.6 2.9-25.7 .7-25.6 2.8 26.4 1.2 21.9 2.2-26.5 1.1-24.8 2.4 25.2-.9 32.5 1.2 25.4 1.4-13.9 1.5-24.2 1.5-20.9-.1-24.9 1.6-.9 1.5-2.2-.1 33.9 1.3 31.7 2.3-28.6 1.4-32.7 1.5 31.4 1.4 26.2 2.2-30.5 .8-27 .3 22 .2 24.7-.3 24.9 3-20.2 3.4-25.9 .2-24.1 3 29.1 1.1 25 1.5-29.2 2.3-30.3 .5-17 .2 24 1.8 26.7 1.3 23.4 1.7-26.3 1.6-22.3 2.6 30.9 1.7 30.8 2.1 2.6 .7-23.1 1.7-21.4-.6-23.6 2.1 23.3 1.1 23.3 1.2-22.5 1.8-21.6 2.3 27.3 1.2 28 .3-31.6 3.1-28.3-1.2-25.5 1.6-20.1 .8 27.8 1.5 27.5 1.4 30.4 3.2-40.4 1.8-10.3-.3 23.4 .8 22.6 1.2 25.1 1.7-28.3 1.8-31.4 .5 27 3.3 32.8 .7 3.9 1.1-29.4 1.4-34.2 2.1 27.7 1.3 29.3 3.5-27.4 .5-29.5 3.2 36.8 3-38.7 1.1-.9 1.1-2.8 1.5 23-.6 28.5 .8-21 2.7-24.5 4 34.8 3.8-35.2 3.5 35.9 3.2-31.2 4.1 37.7 .9 12.4-.3-27.1 .4-32 3.1-.4 .4 28.6 3.1 23.3 2.3-24.1 1.5-23.1 4.3 36 1.1 3.5 1 1.5 1.1-37.4 3.4 26.2 3-29.9 3.7 27.4 3.7-25.9 3.6 42.7 .9-1.7 .9-2.1 .9-1.8 .8-35.9 4.2 23.4 3.1-21.6 4 23.1 3.2-24 2.4 34.8 .6-3.1 .6-.3 .6-2.9 4.3-27.7 3.7 27 3-31.7 4.3 27.6 3.9-26.4 4.1 34.3 3.3-34.7 3.9 23.1 .1-24.2 2.3-21.9 .8 19.4 0 23.5 2.6 29.4 1.5-8.5 3.3-36.8 3.2 18 3.2-20.5 3 24 3.4-23.4 3.1 33.2 .5 15.7 1.2-26 2.4-20.6 3.9 32.4 3.7-42.7 2.3 0 .6 33.6 2.8 23.9 .6-25.3 .8-23.4 4.3 19.2 3.8-20.4 3.9 32.6 .6 .8 .6 3.5 .5 1.7 .6 2.1 .6 3.1 .6 2.1-.1-26.8 .9-21.4 3.7 38.4 4.2-34.7 3.9 36 1.4-23.2-1.3-28.9 1 1.3 1 3.3 1.1 1.8 1 1.8-.4 30.2 1.3 29.8 .7-2.7 .8-2 .7-1.5 .7-1.9 .6-24.5 3.6-21.3 4 39.3 3.7-38.2 3.4 32 3.8-35 3.4 23.7 .4 20.4-.1-22 .4-25.9 1-27.1-.5 30.1 .5 27.5 .3 25.5 .1-24.9 2.4-23.7 3.5 34.8 3.7-36.4 4.1 22 3.9-24.2 3.8 33 3.2-35.1 1.2-7.5 .7 24.4 1.7 21.1 4.2-34.7 .2 40.3 .9-1.1 .9-4.5 .9-1.1 .5-24.3-.3-22.5 .8-21.3 2.2-21.1 .1 27.2 .5 22.4 2.1 25.2 1.1 22.1 3.8-40.3 .3 24 1.4 26.2 2.4-16.9 3.9-34.6 3.5 39.6 4.2-35.9 3.4 31.1 3.4-35.2 1.5 21.7 2 24.9 .7 35.1-.4-27.5 4-27.5-.2-23.5 4.3 25.4 3.1-32.5 1.6-1.8 1.5-1.9 .2 40.7 0 14.8 .9-21 2.6-24.2 3.6 27 4.1-25 3.5 19.8 2.9-20.4 2.9 34.4 3.8-37.5 4 22.4 3-21.6 0 22.7 3 22.6 1.6 21.5 1.1 0 .9-23.1-1.7-20.2 1.3-25.2 2.9 36.9 3.6-34.2 0 34.8 3.1 29.7 .7-20.6 4.2-43.6 3.2 30.7 3.1-34.4 3.6 39.8 3.1-38.4 3.4 38.1 3.6-36.2 4 29.6 4-28 2.3 34.1 .2 29.5 .5-17.9 3.2-25.8 .8-24.2 3.5 37.6 .7-25.3 .1-25.6 1.1-25.6-.7-26.5 .1-22.5-.4 30.2 1.9 24.8 1.4 28.6 3.4 25.1 .3 22.5 4-38.8 3.6 33.9 3.1-35.1-.4 24.5 1.8 24.6 .1 22.3 1.5 25.6 2-27.6-.9-28.7 3.9-43.5 2.3 23.8 1.9 21.5 4.3-43.5 4 29.1 4.2-27.4 3.4 28 .2 29.4 2.5-31.5 .8-27.6 4 33 1.5-22.8-.3-22.6 1.7 8.2 .4 20.9 2.6 23.2 3.1-41.1 4 26.7 3.1-25.7 3.9 41.2 3.9-38.8 3.6 41.3 3.1-20.6-.1-24.7 2.7 32.2 .2 32.2 .7-27.8 3.9-34.3 3.7 40.9 2.3-24.8 1.4-23.6 3-17.2 1 33.1-.6 32.6 4.2-43.4 1.6 26 2.5 20.2 1.8-24.8 1.8-19.3 3.2 34.7 3.6-34.6 1.7 26.1-.4 31 1.6-7.2 1.1-25.8 2.5-25.2 4.1 36.5 3.6-34.9 2.9 34.5 3.5-38.7 1-12.6 .7 22.4 2.5 23 3.6-31.7 3.5 43.8 4.2-41.9 3.3 28.2 3.8-25.7 1.3 22.3 1.7 22 0 16.2 1.9-31.1 1-33.4 3.2 40.6 .3-24.3 3.1-21.1 1.5-42.9-.5 24.2 1.9 28.2 .9 23.1 3.9-28.2 3.6 31.4 3.2-29.2-.5 31.5 2.7 27.7 1.3-21.5 3.5-37.7 3.1 28.2 0-20.6 2.2-23.5 1.6 10.8 2 33.8-.2 28 1.8-8.6 2.1-25.8 1.7-20.5 3.2 38.2 4-43.6 .7-20.5 .7 27 2 27.7 4.2-32.3 2.2 31.1 1.1 25.4 1-5.9 2.8-27.9 .3-22.6 3.9 31 3-27.7 .6 23.5 2.9 21.6 2.4 13.8 .6-.2-.9-30 1-31.1 3.8 24.8 3.2-23.2 2.1 22.3 2.1 21.8 1-20.1 2-25 4 34.9 .1-26.7 .4-26.4 1.8-24.6 1.6 35.3 2.9 33.6 3-25.9 3.6 41.8 1 1.1 .9 3.7 1 1.7-1.4-26.7 1.6-23.6 2.6 24.2 .6 19.9 4.3-40 3 22.9 .1-22.6 1.1-25.4 3 16.8 4 37 3.6-31 3.5 37 2.9-35.9 2.1 28.8 .2 26.9 1.8-23.3 3.5-32.2 3.5 26.8 3.1-28.1 2.9 43.5 4-42.4 1.3 28.4 .6 25.3 2.2-11.5 3.5-42.8 1.2 21.4 2.4 23.5 1.2-27.9 2.8-24.6 2-24.1 .8 24-.3 21.1 1.7 26.3 .5-23.8 3.5-20.4 0-22.7 2.3-24.1 1.3 23.8-.2 22.9-1.6 25.5 1.7 22.1 4.2-42.5 2.4 28 .7 32.3 .8-15 1.1-21.5 2.4-23.6 3 30.1 3.5-34 1.4 25.1-.3 28.4 1.1 27.8 1.2-35 2-23.5 1.8-27.3 1.7-24-.3 22.5 3.3 22-.5 25.2 3.4-37.7 3.7 34.7 3.5-32.8 3.8 36.5 3.9-36.6 3 34.7-1-23.6 1-27 1.3 2.4 1.3 1.7 1.3 2.1 3.5 32 3.1-25.6 3 30 4.2-29.1 1.7 22.7 1.9 27.9 .6 2.4 .6 .9 .7 2.5 .6 2.2 2-28.1-.8-28 3.8 38.9 3-41.1 4 30 5.3 37.3 2.4-39.3" fill="none" stroke="#ff0000" stroke-width="11.6" stroke-linejoin="round" stroke-linecap="round"/>
<path d="M412 1125l.5 25.6-1.3 24.5 .1 21.6-.3 24.1 .2 23.3 1.3 23.9-.5 22 1.5-2 1.5-1.6 .8-.8 .7-1.5 .7-4.5 .8-.7 1-1.9 1-.7 1-3.3 1.7 2.2 1.6 .7 .9 1.8 .8 1.5 .8 3.9 .9 .6 1.6-.1 1.7 2.4 1.5-1.2 1.5-2.7 1.5-.5 1.5-2.6 2-29 1.1 .7 1.1 2.3 1 2.3 1.7 .7 1.6 2 .5-1.9 .5-2.5 .6-.4 .5-2 .5-3.8 .5-.3 .5-3.2 .8-3.2 .7-1.9 .7-.3 .8-1.6 .7-2.9 .9 3 .9 2.5 .9 1.6 .9 .9 .7 1.5 .7 3.6 .8 2.8 .7-.3 .7 3.4 1.2 1.7 1.3 .8 1.3 1.7 1.2 2.8 .5-2.1 .5-1.4 .5-1.1 .5-4.5 .5-.9 .5-.5 .5-2.7 .5-2.7 .5-2.9 .5-1.2 .8 2.4 .7 .9 .7 3.2 .8 1.6 1.5 2.4 1.5 1.5 2-41 .8-2.2 .8-.7 .8-3.1 .8-1.6 .6-2.2 .7-1 .6-3.8 .7-2.3 .6-1.1 2.6 22 .9 32.1 .6 32.9 2.5 38 .8-1 .8-4.1 .8-1.7 .8-1.8 1.6-3.5 1.6-.9 .9 1.7 .9 1.4 .9 2.3 .9 2 1 2.7 .9-.3 .9 4.8 .9 .4 .6-1.6 .5-2 .6-3.1 .6-2.1 .5-2.5 .6-2.4 .6-2.2 .6-2.7 .5-1.9 .6-1.5 1.6-25 2 1 2 2.3 1.3 1.4 1.4 3.6 1.3 .7 .8-1.1 .7-2.5 .7-3.9 .8-.6 1-2.5 1-1 1-1.9 1-1.2 1-2.7 1-1.6 2.9 21.9 2.8 25.1 2.7-14.4 .6-1.6 .5-1.2 .6-3.9 .5-1.6 .6-1.7 2.7-14.6 3.2 1 3.3 1.4 1.6 2.1 1.6 .5 .5 1.4 .6 3.2 .5 1 .6 .9 .5 3.4 .7 2.1 .7 1.1 .6 4.4 .7 1.4 2.7 12.1 3.7-15.2 3.6-18.8 2.9 22.6 2.8 22.4 1.4-1.1 1.3-3.1 1.4-2.3 1-.8 1-4 1-1.3 1-1.8 .5 1.1 .6 1.6 .5 4.4 .6-.3 .5 4.7 .6 .8 1.1 2.2 1 2.6 1.1 1.5 .6 .6 .5 4.5 .6 1.7 .5-.1 .6 2.2 .5 2.9 .6-3.1 .6-.9 .6-3.3 .6 .2 .6-2.9 .6-1.4 .6-3.3 .6-1.3 1.1 2.3 1.1 1.3 1.1 2 1.6 2.9 1.6 2.1 1.1 1.5 1.1 3.6 1.1 .3 3.2-40 2.7-2.8 1.4-1.3 1.3-3.4 1.3-1.3 1.4-3.2 3.3 18 .5-2.5 .6-2.5 .5-2.2 .6-2.1 .5 .5 .5-3.4 .6-2.7 .5-.1 .6-3.9 .5-.8 .6-3.1 .5-1.2 .8-2.7 .8-.9 .8-2.5 .8-2.5 1.1-.4 1.1-3.9 1.1-1 1-3 1.1-3 1.1-1.1 1.5-3.4 1.5-1.6 2.8 19.9 2.9 19.4 2.8 16.7 3.4-23.1 1.1-23.9 .6 2 .5 1.8 .6 3.3 .5 1.9 .6 1.6 .6 1.2 .5 1.9 .6 2.6 .5 4.1 .6 1.3 2.8 12 .7 3 .7 .8 .7 2.4 .7 3.1 .6 1.6 .5 3.3 .6 2.4 .5 .7 .6 3 .8-2.6 .7-2.3 .7 .1 .8-3.4 1-1.9 1-.9 1-3.5 1-3.1 1-1.2 1-2.8 .8-2.1 .7-1.3 .7-4 .8-2 1.2-3 1.1-.4 1.2-3.1 1.2-.9 1.1-3.7 1.2-2.3 .7-2.5 .7-2.6 .7-.8 .7-.5 .7-3.2 3 23.6 3 26.5 3 24.9 3.2-16.9 .6-2.7 .6-1.9 .7-1.9 .6-3.2 .6-1.5 3.2-16.9 .6-3.3 .5-.9 .6-.8 .5-2.4 .6-3.8 .6-.7 .5-2 .6-3.1 2.8 17.4 2.8 19.9 2.9 19.3 2.8 17.7 2.8 18.7 .6-1.8 .6-2.8 .6-2.5 .6-.6 .6-2.7 .6-1.5 .6-3.4 .6-2.3 .6-2.1 .5-.9 .6-1 .6-1.8 .6-3 .6-1.7 .6-2.3 .6-1.5 .6-3.8 .6-1 .6-2.3 .6-2 .9-.7 1-4 .9 .2 .9-2.9 1-3.2 .9-.8 1-1.3 .9-3.3 3.3 17.5 3.3 15.5 .7-3.5 .7-.9 .7-3.7 .7-.7 .7-2.2 .7-2.3 .7-.8 .7-3.7 .7-2.1 .7-.8 .7-2.6 .7-2.7 4.6-32.5 3.2 39.7 3.2 42.8 3.8-21.6 3.8-17.4 .9 2.9 1 .3 .9 2.3 .7 1.1 .7 3.9 .7 .7 .7 3.5 1.4 2.5 1.4 1.8 .9 1.1 .9 3.4 .8 2.6 .9 1.3 .9 3.5 .8-.1 .9 2.1 .9 3.1 1.6 1 1.6 1.5 1.1 3.2 1-.4 1.1 2.6 1.1 1.6 1 1.5 1.1 2 1.6 .2 1.6 2.8 .9-2.1 .9-3 .9-1.7 .5-2.1 .6-1.3 .5-2.3 .6-3.3 .5-1.3 .9-1.9 .9-2.8 .9-2.5 .7-1.4 .6-4.4 .7-1.4 .7-1.5 .6-1.7 .6-2.6 .6-2.3 .6-2.2 .6-1.9 .6-2.6 .9-1.3 .9-1.6 .9-2.2 .9-2.8 .6-.9 .6-3.1 .6-3.4 .6-1.5 .6-.7 .6-3.2 1.6 3.2 1.6 1.6 1.7 2.3 1.6 1.7 1.1 .8 1.1 1.9 1 3 1.1 2.6 1.1 1.5 1.1 2.4 1.1 1.4 1.1 4.6 1 .9 1.1 1.1 1.1 4 1.1 .7 1.6 1.6 1.6 .9 1.1 3.6 1.1 1.8 1.1 1.4 3.2-16.9 3.3-22.3 3.2-19.7 3.3-17.1 3.2 18.3 3.2 20.9 3.2 21.8 1.5-3.4 1.5-1.6 1-3.1 1-.3 1-3.3 1.5-2.4 1.5-2.1 .8-1.9 .7-1.2 .7-2.4 .8-2.3 3.3-15.6 3.4-14.5 .5-1.5 .6-2.8 .5-2.8 .6-.8 .5-4 .6-1 .8-1.2 .8-1.8 .8-3.8 .8-.9 .7-3.6 .6 .5 .7-4.3 .7-1.1 .6-2.3 2.7 16.2 2.8 16.3 1.2-2.8 1.3-2.7 1.3-1.1 1.2-2.9 1.2-2.7 1.3-.8 3.3 33.6 3.2 31.4 2-.6 2-2.6 2 1.4 2-.2 3.5-21.5 3.5-17.5 3.3 23.4 3.3 26.3 3.3 25.8 .7-1.1 .7-3.8 .7-1.4 .7-2.5 .8-.7 1.1-1 1.2-1.6 1.2-3.4 3.5-16.9 3.5-17.1 4 30 .6-.7 .5-2.4 .6-2.7 .5-2.4 .6-3.2 .5-2.3 .6-.7 .6-1.5 .5-1 .6-1.9 .5-3.6 .6-1.6 .5-.9 .6-3.1 .5 1.3 .6 3.3 .5 1.5 .6 1.4 .5 2.1 .6 1.7 .5 1.2 .6 1.9 .5 2.5 .5 2.5 2.8 11.1 .5 3.5 .6 1.6 .5-.3 .6 4.4 .5 1.3 .6-3 .7-.6 .6-.9 .7-2 .6-3.2 .7-.8 .6-1.7 .7-3.1 .6-3.8 .7-.6 .5-2.8 .5-.9 .6-2.4 .5-1.2 .6-4.3 .5-1.2 .6-1 .5-3.1 .6-2.1 .6-3.6 .6-1.1 2.8-17.2 .6-2.6 .6-1.7 .6-1.4 .5-2.4 .6-2.7 3.3 20 3.3 18.9 3.7-22.7 3.7-24.8 3 18.1 3 14.6 3 14.9 3 17.4 2.9-21.3 2.9-18.7 2.9-23 1.8 2.5 1.8 1.6 .9 2.4 .9 .8 .9 1.8 .9 2.3 1.2 3.3 1.2 .9 1.2 1.4 3.7-16.6 3.8-15.4 2.8 39.2 2.7 40.8 .8 2.4 .8 3.5 .8 1.9 .9 1.2 .5 2.8 .5 2.9 .6 .3 .5 3.7 .6 1.1 .5 1.9 3.2-16.6 3.3-16.1 1.9-2.2 1.8-1.7 1.9-2.6 1.9-2 3.8 28.4 3.8 25.8 .6-3.4 .6 .5 .5-1.8 .6-3.8 .6-1.7 2.9-15.1 .6-.9 .6-4.8 .5-1.2 .6-.7 .6-3.8 2.9-2.4 2.9-2.2 2.9 .1 3.2 26.1 3.3 25.9 3.2-16.1 3.1-17.9 3.2-18 .8 2.4 .8 .5 .8 3.4 .8 1.6 .7 .6 .6 4.2 .7 1.7 .6 2.2 .7 1.7 .8 2.5 .8 .3 .8 4.4 .9 .9 1 2.8 1.1 2.4 1.1 .9 .8-2.9 .9-2.1 .8-.6 .8-2.7 .6-.9 .5-3.1 .6-3.1 .6-1.5 .5-2.7 .6-1.3 .8-2.4 .8-.9 .9-3.2 .8-2.9 .7-3 .7 0 .7-2.2 .8-3.3 2.8-12.2 1-2.8 .9-3.6 1-1 2.7 20 2.7 18.9 3.8-24.3 3.8-22.2 2.8 13.4 2.8 15.5 .6 2.7 .5 1.2 .6 1.6 .5 4.6 .6 1 1 1.9 1 1.5 1 3.2 .9 1.8 1 4.6 1 1 .7 1.8 .8 2.7 .7 1.7 .7 3.1 1 .9 1 2.4 1 3.4 3.6-15.3 .6-3.5 .6-1 .6-2.2 .6-1.4 .6-1.8 .6-3.1 .6-1 .6-4.3 .6-.9 .6-3.3 .6-1.7 .6-1.5 2.7-11 2.7-15.5 .7-2.7 .7-2.4 .7-1 .7-3.4 2.7-13.6 2.8 22.7 2.9 23.2 2.8 23.4 1-2.3 1-2.8 .9-1 .6-1.7 .6-3 .6-.1 .6-4.4 .6-.8 .7-3 .7-2.1 .8-1.2 .7-1.3 2.9 1.7 .9 2.8 1-.2 .9 3.2 1.5 1.9 1.4 1.3 .8 3.3 .7 0 .8 3.6 .7 2 .8 1.4 .8 3.6 .7 1.9 .8 1.5 .7 1.6 .8 2.4 3.8-36.4 3.8-39 .8 21 .3 26.4 1.7 20.4 1.6 25.3 2.9 .9 2.8 1.8 2.9-.4 3.2 18.3 3.2 16.2 2-1.4 2-1.2 2-3 2-.9 .6-1.8 .7-1.2 .6-3.9 .6-3.2 .6-.8 3.2-13 3.1-13.1 5.4 43.5 3.8-16 .6-3.1 .7-1.6 .6-.4 .6-1.9 .7-3.1 .6-2.4 4.3-43 .8-2.3 .8-2.9 .8 .2 .9-3 1-3.7 1.1-1.6 1.1-1.5 1.6-1.6 1.7-3.1 1-1.6 1.1-3.7 1.1-1.2 3.1 25.8 3.2 21.9 1-.4 1-2.8 .9-2.3 1.5-1.9 1.5-3.1 2.9-2.5 1.1 1.6 1.1 4.1 1.1 1.6 .6 .7 .7 3.8 .6 .4 .7 4.4 .6 1.2 .8 2.3 .9 2 .8 1.5 .8 2.4 3.2-14.3 3.3-15.9 3.2-17.5 3.3 39 1.1-1.4 1.1-4.6 1-.9 1.6-3.3 1.7-1.3 1.6-3.2 1.6-.3 2.2-41.3 1.4-1.5 1.4-2.2 1.5-3.2 1.4-.5 1.4-3.1 1.4-.2 3.1 1.7 3-2.2 3.1 2 3 .2 3.1-1.7 3.2-1.3 1.1-1.2 1.1-3.9 1.1-1.7 3.2-.9 .2 27 .8 23 2.3 43 2.7 17.1 2.7 15.7 5.3-34.8 3.3 13.4 3.3 14.6 3.2-.1 1.6-2.3 1.6-1.6 3.3-30.7 3.3-34.3 3-24.1 1.4-29.9 3.2 30.7 3.2 34.3 1.2 26.4 3.1 29.6 1.2 25.9 3.5 28.8 1.1 2.3 1.1 3.3 1.2 .6 .6 2.8 .7 1.7 .7 .1 .7 4.3 .6 .6 .9 1.8 .8 3 .9 .3 .8 2.9" fill="none" stroke="#0000ff" stroke-width="13.2" stroke-linejoin="round" stroke-linecap="round"/>
<path d="M1467.5 1498.4l1.3 1.3 1.4 2.4 1.3 1.4 1.4 .5 1.3 2.6 1.4 1.1 1.4 .6 1.3 3 1.4 .4 1.3 1.9 1.9 .6 1.9 1.1 1.9 1.2 1.9 .2 1.8 1.9 1.9 1.1 1.9 .5 1.9 1.3 1.9 .5 2 .5 2 .7 2-.8 2 .6 2 .5 2-.2 2 1.7 2-.2 2-.6 2 1.1 2 .2 2.1 .2 2.1-.1 2 .2 2.1 .8 2.1-.3 2.1 1.1 2.1 .2 2.1-.4 2.1 1.5 2-1 2.1 .5 2.1 .8 2 .7 2-.7 2.1 .5 2 .5 2 0 2.1 .3 2 .2 2 .2 2-.4 2 1.4 2.1-.6 2-.2 2 .8 2.1 .9 2-.1 2 0 2 0 2.1 .1 2-.4 2.1 .7 2-.3 2-.4 2.1 .1 2 0 2 1.1 2.1 .3 2-.1 2-.8 2.1-.1 2 1.4 2.1-.9 2 .3 2.1-.5 2.1 .6 2.2 .1 2.1-.1 2.1-.2 2.2-.2 2.1 .3 2.1 0 1-2.3 1-1.9 1-2.5" fill="none" stroke="#0000ff" stroke-width="10.6" stroke-linejoin="round" stroke-linecap="round"/>
<path d="M1630 1526.8l1.4 24.9-.3 29.2 1.5 26.1 0-29.9 1.7-33.2 .5-42.9 3.8 27.9 .6 2.8 .6-.2 .5 3.9 .6 1.4 .6 2.3 .6 1.6 .7-.6 .7-1.9 .7-3.7 .6-.7 .7-2.1 .7-1.4 .7-3.4 3.7 23.9 4.2-20.7 2.7-16.1 1.4 33.6 3.7-18.6 .5 .6 .6 4.7 .5-.2 .5 1.7 .6 3.4 .5 2.7 .5 2.3 .6 .2 .5 2.4 3.1 40.9 1.4-32.1 .1-26.4 3.5 20.3 4.3-22.3 1.5-11.2 1.9 34.9 4.2-21.4 4.8 20.3 4.9-22.1 4.7 19.7 .6-.7 .6-4.2 .7-1.4 .6-3.4 .6-2.4 .6-2.2 .7-.4 .6-2.4 1 26.1 1.4 21.8 .2 24.6 1.1-31.1-.2-27.5 .6-1.1 .6-4.1 .7-.2 .6-3.9 .6-2.1 .6-2 .8-36.2 1.7 24.5 1.6 29.8 3.9-20.6 4 17.7 .8-38.4 3.5 21.1 0 24.2 2.2 21 .5 26.7 .9-26.5 1.3-25 .5-1.3 .6-1.4 .5-4.8 .6-.8 .5-3.4 .6 0 .5-1.7 .6-2.8 .5-2.7 .6 2.3 .5 .5 .6 2.2 .5 2.5 .6 1.6 .5 2.2 .6 4.5 .5 .3 .6 2.5 3.7-18.6 5 20.8 4.3-21.6 3.7 20.7 1.2-20.8-.5-23.9 3.6 21.7 3.5 23 5-24.1 1.5 31 .4 26 2.8-37.5 3.6-18.4 4.7 22.9 1.3 24.4 .6 26.2 .4-24.6-.3-25.9 1.4-21.2 3.4 19.4 4-18 .6 2.2 .7 1.9 .6 3.4 .6 1 .6 2.6 .7 1 .6 2.3 .6 1.8 1.3-32.5 .6 3.1 .6-.1 .7 2.2 .6 3.4 .6 1.8 .6 2.8 3.5 21.5 3.4-22.1 .5 20.3 .8 25.6 2.7-22.7 3.7-24.1 .3-29.9 1.6 23.7 2.9 28.5 .7 26.7 .2 32.3 .4-24.4 2.2-29.5 1.5-22.7 3.9 20.3 4.3-21.7 4.3 23.9 4.4-22.2 4.3 21.5 4.5-25.4 3.9 30.6 4.2-28.9 .9 26.1 0 27.1-.9 25.3 1.8-28.4 1.6-27.1 4.3-25.9 4.4 27.7 3.5-24.3 3.8 41.5 .3-17 4-24.1 .6 1 .6 4.7 .5 .6 .6 1.8 .6 1.6 .6 3.6 .5 3.3 .6 .7 3.5-17.5 .5 25.2 1.3 21.5 .7 24.7 .4 21.9 1.5-27.3-.9-23.4 1.4-23.1 4.2-19.9 3.9 20.7 3.8-22 3.4-17.5 1 38.6 4-18.9-.2 27.8 1.6 30.5 2-37 4.6-23.8 3.7 25.9 1.7 24.3 2 27.6 0-29.1 .9-21.9-.8-27.5 4.1 25.3 3.5-24.5 3.9 25.6 4.1-22.7 3.7 17.4-.4 21.7 1.8 23.1-.1 25.6 1.5-32 .8-25.3 .8-30.3 2.8-.4 2.8-.7" fill="none" stroke="#0000ff" stroke-width="12.4" stroke-linejoin="round" stroke-linecap="round"/>
</g>
<text class="san" transform="translate(348.3,1615.2) scale(1,1.035)" font-size="71" text-anchor="end">0</text>
<text class="san" transform="translate(348.3,1103.5) scale(1,1.035)" font-size="71" text-anchor="end">4,000</text>
<text class="san" transform="translate(348.3,591.7) scale(1,1.035)" font-size="71" text-anchor="end">8,000</text>
<text class="san" transform="translate(348.3,80.0) scale(1,1.035)" font-size="71" text-anchor="end">12,000</text>
<text class="ser" transform="translate(410.9,1747.6) scale(1.03,1)" font-size="82" text-anchor="middle">0</text>
<text class="ser" transform="translate(567.0,1747.6) scale(1.03,1)" font-size="82" text-anchor="middle">1</text>
<text class="ser" transform="translate(723.1,1747.6) scale(1.03,1)" font-size="82" text-anchor="middle">2</text>
<text class="ser" transform="translate(879.2,1747.6) scale(1.03,1)" font-size="82" text-anchor="middle">3</text>
<text class="ser" transform="translate(1035.3,1747.6) scale(1.03,1)" font-size="82" text-anchor="middle">4</text>
<text class="ser" transform="translate(1191.4,1747.6) scale(1.03,1)" font-size="82" text-anchor="middle">5</text>
<text class="ser" transform="translate(1347.4,1747.6) scale(1.03,1)" font-size="82" text-anchor="middle">6</text>
<text class="ser" transform="translate(1503.5,1747.6) scale(1.03,1)" font-size="82" text-anchor="middle">7</text>
<text class="ser" transform="translate(1659.6,1747.6) scale(1.03,1)" font-size="82" text-anchor="middle">8</text>
<text class="ser" transform="translate(1815.7,1747.6) scale(1.03,1)" font-size="82" text-anchor="middle">9</text>
<text class="ser" transform="translate(1971.8,1747.6) scale(1.03,1)" font-size="82" text-anchor="middle">10</text>
<text class="ser" transform="translate(1190.3,1841.6) scale(1.01,1.07)" font-size="82" text-anchor="middle">t, s</text>
<text class="ser" transform="translate(89,934.2) rotate(-90) scale(1.0,1)" font-size="82">ΔP, Pa</text>
<rect x="1150" y="94.2" width="781" height="472.2" fill="#fff" stroke="#000" stroke-width="5" stroke-linejoin="round"/>
<line x1="1158.2" y1="153.3" x2="1260.2" y2="153.3" stroke="#0000ff" stroke-width="11.6" stroke-linecap="round"/>
<line x1="1158.2" y1="262.4" x2="1260.2" y2="262.4" stroke="#ff0000" stroke-width="11.6" stroke-linecap="round"/>
<line x1="1158.2" y1="378.0" x2="1260.2" y2="378.0" stroke="#000000" stroke-width="11.6" stroke-linecap="round"/>
<line x1="1158.2" y1="501.3" x2="1260.2" y2="501.3" stroke="#9400d3" stroke-width="11.6" stroke-linecap="round"/>
<text class="ser" transform="translate(1303,183.2) scale(0.898,1.0)" font-size="90.5">Water, Sw=0%</text>
<text class="ser" transform="translate(1303,292.1) scale(0.898,1.0)" font-size="90.5">Water, Sw=50%</text>
<text class="ser" transform="translate(1299.7,401.8) scale(0.898,1.0)" font-size="90.5">SiO<tspan font-size="52" x="143.4" dy="20.5">2 </tspan><tspan x="194.1" dy="-20.5">1%, Sw=0%</tspan></text>
<text class="ser" transform="translate(1299.7,525.0) scale(0.898,1.0)" font-size="90.5">SiO<tspan font-size="52" x="143.4" dy="20.5">2 </tspan><tspan x="194.1" dy="-20.5">1%, Sw=50%</tspan></text>
</svg></body></html>
